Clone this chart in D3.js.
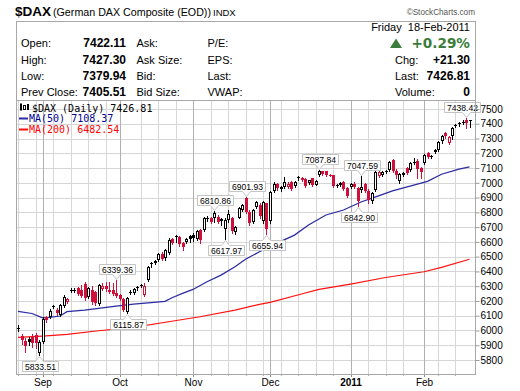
<!DOCTYPE html>
<html><head><meta charset="utf-8">
<script src="https://cdn.jsdelivr.net/npm/d3@7"></script>
<style>
html,body{margin:0;padding:0;background:#fff;}
svg{display:block;}
text{white-space:pre;}
</style></head><body>
<svg id="c" width="520" height="391"></svg>
<script>
// ---------- DATA ----------
const startDate = "2010-08-23", endDate = "2011-02-18";
const open = [6010,5965,5930,5945,5955,5972,5850,5925,6090,6090,6160,6140,6105,6165,6192,6268,6270,6285,6275,6318,
6228,6275,6262,6180,6282,6300,6262,6272,6255,6240,6212,6128,6258,6255,6290,6305,6240,6340,6450,6460,
6478,6520,6492,6525,6618,6635,6630,6590,6600,6640,6645,6620,6680,6680,6755,6762,6762,6770,6755,6690,
6745,6765,6665,6765,6818,6895,6800,6738,6838,6852,6740,6860,6740,6942,6990,6960,6975,6975,7005,6980,
7035,7032,7025,6998,7030,6988,7052,7080,7078,7055,7052,6980,6988,7005,6965,6975,6995,6962,6950,6995,
6945,6880,6950,7045,7055,7072,7088,7152,7080,7010,7055,7098,7088,7138,7150,7098,7135,7205,7176,7212,
7222,7280,7335,7270,7315,7385,7398,7404,7425,7422.11];
const high = [6040,5975,5950,5955,5975,5985,5935,6090,6100,6145,6175,6150,6180,6238,6222,6285,6285,6292,6305,6325,
6292,6300,6270,6312,6322,6330,6330,6320,6339.36,6250,6220,6228,6275,6290,6302,6318,6320,6440,6465,6480,
6522,6530,6550,6625,6625,6650,6640,6600,6625,6645,6660,6682,6690,6770,6775,6770,6810.86,6780,6760,6760,
6815,6770,6710,6835,6855,6901.93,6815,6820,6878,6860,6878,6865,6945,7005,7000,6978,7040,7005,7012,7010,
7045,7040,7030,7022,7035,7020,7087.84,7082,7082,7058,7055,6995,7005,7010,6975,7000,7005,6970,7047.59,7000,
6955,6935,7080,7080,7082,7085,7150,7160,7095,7068,7075,7105,7140,7170,7160,7105,7192,7212,7190,7230,
7285,7325,7345,7320,7375,7400,7412,7425,7438.42,7427.30];
const low = [5995,5905,5855,5900,5885,5880,5833.51,5915,6060,6085,6150,6105,6100,6160,6185,6262,6262,6240,6225,6205,
6222,6180,6175,6170,6275,6270,6255,6240,6225,6205,6135,6115.87,6250,6245,6275,6295,6235,6335,6430,6450,
6470,6475,6480,6520,6585,6600,6575,6545,6590,6600,6605,6610,6590,6675,6740,6728,6738,6725,6715,6617.97,
6735,6660,6655,6760,6810,6798,6715,6730,6830,6760,6730,6655.94,6730,6935,6950,6945,6968,6965,6950,6975,
7020,7015,6970,6990,6978,6982,7045,7050,7048,7048,6970,6970,6980,6950,6905,6965,6965,6842.90,6940,6935,
6860,6862,6945,7040,7048,7065,7080,7070,7030,7000,7045,7060,7080,7125,7035,7030,7128,7170,7165,7200,
7215,7270,7305,7262,7300,7375,7385,7398,7370,7379.94];
const close = [6018,5935,5898,5925,5918,5912,5925,6080,6072,6135,6166,6118,6170,6225,6215,6275,6276,6250,6235,6222,
6287,6190,6188,6305,6298,6280,6275,6248,6232,6215,6142,6218,6262,6278,6294,6310,6300,6430,6455,6468,
6515,6486,6542,6615,6594,6640,6588,6565,6618,6620,6625,6675,6610,6760,6765,6738,6793,6738,6742,6750,
6790,6675,6700,6828,6848,6805,6728,6815,6870,6772,6868,6688,6938,6995,6965,6970,7008,6995,6960,7005,
7040,7022,6978,7018,6985,7015,7080,7058,7054,7052,6976,6988,7000,6960,6914,6990,6975,6880,6975,6945,
6885,6930,7072,7070,7075,7078,7140,7078,7055,7060,7068,7066,7135,7142,7095,7070,7186,7178,7182,7220,
7278,7318,7315,7312,7370,7395,7405,7414,7405.51,7426.81];

const ma50Idx = [0,4,7,9,12,14,19,23,28,33,38,42,44,47,50,54,58,62,65,69,74,79,83,88,93,98,103,107,112,117,121,126,129];
const ma50Val = [6130,6115,6086,6089,6098,6127,6138,6150,6165,6179,6188,6197,6222,6251,6278,6330,6375,6432,6482,6533,6592,6646,6714,6782,6816,6870,6912,6945,6978,7010,7058,7093,7108.37];
const ma200Idx = [0,7,14,23,33,43,52,62,69,72,81,86,95,105,116,121,129];
const ma200Val = [5953,5962,5974,5998,6021,6059,6093,6138,6177,6190,6247,6278,6314,6359,6398,6427,6482.54];

const yTickValues = [5800,5900,6000,6100,6200,6300,6400,6500,6600,6700,6800,6900,7000,7100,7200,7300,7400,7500];
const monthLabels = ["Sep","Oct","Nov","Dec","2011","Feb"];

// swing-point annotations: bar index + which extreme
const annIdx  = [6, 28, 31, 56, 59, 65, 71, 86, 97, 98, 128];
const annType = ["low","high","low","high","low","high","low","high","low","high","high"];

const infoLabels = ["Open:","High:","Low:","Prev Close:"];
const infoValues = ["7422.11","7427.30","7379.94","7405.51"];
const infoCol2 = ["Ask:","Ask Size:","Bid:","Bid Size:"];
const infoCol3 = ["P/E:","EPS:","Last:","VWAP:"];
const rightLabels = ["Chg:","Last:","Volume:"];
const rightValues = ["+21.30","7426.81","0"];

// ---------- SETUP ----------
const svg = d3.select("#c");
const RED = "#d0103a", BLACK = "#000", NAVY = "#2a2aa2", MARED = "#ff1010";
const SANS = "'Liberation Sans', Arial, sans-serif";
const MONO = "'DejaVu Sans Mono', monospace";

const parse = d3.utcParse("%Y-%m-%d");
const dates = d3.utcDay.range(parse(startDate), d3.utcDay.offset(parse(endDate), 1))
  .filter(d => d.getUTCDay() !== 0 && d.getUTCDay() !== 6);
const n = dates.length;

const PL = 16, PR = 476, PT = 100, PB = 374;
const x = d3.scaleLinear().domain([0, n - 1]).range([18, 469.5]);
const y = d3.scaleLinear().domain([5800, 7500]).range([360, 109]);

svg.append("rect").attr("width",520).attr("height",391).attr("fill","#fff");

// ---------- HEADER ----------
svg.append("text").attr("x",15).attr("y",16).attr("font-family",SANS).attr("font-weight","bold")
  .attr("font-size",13.5).text("$DAX");
svg.append("text").attr("x",53).attr("y",16).attr("font-family",SANS).attr("font-size",10.7)
  .text("(German DAX Composite (EOD))");
svg.append("text").attr("x",213).attr("y",16).attr("font-family",SANS).attr("font-size",9.5)
  .text("INDX");
svg.append("text").attr("x",475).attr("y",15).attr("text-anchor","end").attr("font-family",SANS)
  .attr("font-size",8.2).attr("fill","#555").text("\u00A9StockCharts.com");

const rowY = [47, 63.5, 80, 96];
infoLabels.forEach((t,k)=>{
  svg.append("text").attr("x",21).attr("y",rowY[k]).attr("font-family",SANS).attr("font-size",11).text(t);
  svg.append("text").attr("x",126).attr("y",rowY[k]).attr("text-anchor","end").attr("font-family",SANS)
    .attr("font-weight","bold").attr("font-size",12).text(infoValues[k]);
  svg.append("text").attr("x",136.5).attr("y",rowY[k]).attr("font-family",SANS).attr("font-size",11).text(infoCol2[k]);
  svg.append("text").attr("x",207.5).attr("y",rowY[k]).attr("font-family",SANS).attr("font-size",11).text(infoCol3[k]);
});
svg.append("text").attr("x",470).attr("y",31).attr("text-anchor","end").attr("font-family",SANS)
  .attr("font-size",11).text("Friday  18-Feb-2011");
svg.append("path").attr("d","M390,48L396,38.5L402,48Z").attr("fill","#3b7d3b");
svg.append("text").attr("x",470).attr("y",48).attr("text-anchor","end").attr("font-family","'DejaVu Sans', sans-serif")
  .attr("font-weight","bold").attr("font-size",13.6).attr("fill","#3b7d3b").text("+0.29%");
rightLabels.forEach((t,k)=>{
  svg.append("text").attr("x",395).attr("y",rowY[k+1]).attr("font-family",SANS).attr("font-size",11).text(t);
  svg.append("text").attr("x",470).attr("y",rowY[k+1]).attr("text-anchor","end").attr("font-family",SANS)
    .attr("font-weight","bold").attr("font-size",12).text(rightValues[k]);
});

// ---------- GRID ----------
const monthIdx = [];
dates.forEach((d,i)=>{ if(i>0 && d.getUTCMonth() !== dates[i-1].getUTCMonth()) monthIdx.push(i); });
const weekIdx = [];
dates.forEach((d,i)=>{
  if(d.getUTCDay() === 1 && !monthIdx.some(m => Math.abs(m - i) <= 1)) weekIdx.push(i);
});
const grid = svg.append("g").attr("shape-rendering","crispEdges");
yTickValues.forEach(v=>{
  grid.append("line").attr("x1",PL).attr("x2",PR).attr("y1",Math.round(y(v))+0.5).attr("y2",Math.round(y(v))+0.5)
    .attr("stroke","#d6d6d6");
});
weekIdx.forEach(i=>{
  const xx = Math.round(x(i))+0.5;
  grid.append("line").attr("x1",xx).attr("x2",xx).attr("y1",PT).attr("y2",PB).attr("stroke","#d6d6d6");
  grid.append("line").attr("x1",xx).attr("x2",xx).attr("y1",PB).attr("y2",PB+2).attr("stroke","#aaa");
});
monthIdx.forEach(i=>{
  const xx = Math.round(x(i))+0.5;
  grid.append("line").attr("x1",xx).attr("x2",xx).attr("y1",PT).attr("y2",PB).attr("stroke","#b0b0b0");
  grid.append("line").attr("x1",xx).attr("x2",xx).attr("y1",PB).attr("y2",PB+3).attr("stroke","#888");
});

// clip
svg.append("clipPath").attr("id","clip").append("rect").attr("x",PL).attr("y",PT).attr("width",PR-PL).attr("height",PB-PT);
const plot = svg.append("g").attr("clip-path","url(#clip)");

// ---------- MOVING AVERAGES ----------
const line = d3.line().x(d=>x(d[0])).y(d=>y(d[1]));
plot.append("path").attr("d", line(ma200Idx.map((i,k)=>[i, ma200Val[k]])))
  .attr("fill","none").attr("stroke",MARED).attr("stroke-width",1.15);
plot.append("path").attr("d", line(ma50Idx.map((i,k)=>[i, ma50Val[k]])))
  .attr("fill","none").attr("stroke",NAVY).attr("stroke-width",1.25);

// ---------- CANDLES ----------
const cg = plot.append("g").attr("shape-rendering","crispEdges");
for(let i=0;i<n;i++){
  const o=open[i], h=high[i], l=low[i], c=close[i];
  const col = (i>0 && c < close[i-1]) ? RED : BLACK;
  const xc = Math.round(x(i));
  cg.append("line").attr("x1",xc+0.5).attr("x2",xc+0.5).attr("y1",Math.round(y(h))).attr("y2",Math.round(y(l))+1)
    .attr("stroke",col);
  const top = Math.round(y(Math.max(o,c))), bot = Math.round(y(Math.min(o,c)));
  const hgt = bot - top;
  if (c < o) {
    cg.append("rect").attr("x",xc-1).attr("y",top).attr("width",3).attr("height",Math.max(1,hgt)).attr("fill",col);
  } else if (hgt < 2) {
    cg.append("rect").attr("x",xc-1).attr("y",top).attr("width",3).attr("height",1).attr("fill",col);
  } else {
    cg.append("rect").attr("x",xc-0.5).attr("y",top+0.5).attr("width",2).attr("height",hgt-1)
      .attr("fill","#fff").attr("stroke",col);
  }
}

// ---------- ANNOTATIONS ----------
const fmt = d3.format(".2f");
const ag = svg.append("g");
annIdx.forEach((i,k)=>{
  const isHigh = annType[k] === "high";
  const v = isHigh ? high[i] : low[i];
  const cx = Math.round(x(i)) + 0.5;
  const vy = y(v);
  const w = 36, hh = 10;
  let bx = Math.round(cx - w/2) + 0.5;
  if (bx + w > 480.5) bx = 480.5 - w;
  let p;
  if (isHigh) {
    const bb = Math.round(vy - 6) + 0.5, bt = bb - hh;
    p = `M${bx},${bt}H${bx+w}V${bb}H${cx+4}L${cx},${bb+5}L${cx-4},${bb}H${bx}Z`;
    ag.append("path").attr("d",p).attr("fill","#fff").attr("stroke","#c4c4c4");
    ag.append("text").attr("x",bx+w/2).attr("y",bt+8.5).attr("text-anchor","middle").attr("font-family",SANS)
      .attr("font-size",8.6).text(fmt(v));
  } else {
    const bt = Math.round(vy + 6) + 0.5, bb = bt + hh;
    p = `M${bx},${bt}H${cx-4}L${cx},${bt-5}L${cx+4},${bt}H${bx+w}V${bb}H${bx}Z`;
    ag.append("path").attr("d",p).attr("fill","#fff").attr("stroke","#c4c4c4");
    ag.append("text").attr("x",bx+w/2).attr("y",bt+8.5).attr("text-anchor","middle").attr("font-family",SANS)
      .attr("font-size",8.6).text(fmt(v));
  }
});

// ---------- LEGEND ----------
const lg = svg.append("g");
lg.append("rect").attr("x",20).attr("y",104).attr("width",2).attr("height",6).attr("fill","#000");
lg.append("line").attr("x1",21).attr("x2",21).attr("y1",103).attr("y2",111).attr("stroke","#000");
lg.append("rect").attr("x",23.5).attr("y",105.5).attr("width",2).attr("height",4).attr("fill","#fff").attr("stroke","#000");
lg.append("rect").attr("x",27).attr("y",104).attr("width",2).attr("height",6).attr("fill","#000");
lg.append("text").attr("x",32).attr("y",111.5).attr("font-family",MONO).attr("font-size",10).text("$DAX (Daily) 7426.81");
lg.append("line").attr("x1",19).attr("x2",28).attr("y1",118.5).attr("y2",118.5).attr("stroke",NAVY).attr("stroke-width",2);
lg.append("text").attr("x",29).attr("y",122).attr("font-family",MONO).attr("font-size",10).attr("fill","#000090").text("MA(50) 7108.37");
lg.append("line").attr("x1",19).attr("x2",28).attr("y1",129.5).attr("y2",129.5).attr("stroke",MARED).attr("stroke-width",2);
lg.append("text").attr("x",29).attr("y",133).attr("font-family",MONO).attr("font-size",10).attr("fill","#ff0000").text("MA(200) 6482.54");

// ---------- FRAME ----------
svg.append("rect").attr("x",PL+0.5).attr("y",21.5).attr("width",PR-PL-1).attr("height",PB-21.5)
  .attr("fill","none").attr("stroke","#a8a8a8").attr("shape-rendering","crispEdges");
svg.append("line").attr("x1",PL).attr("x2",PR).attr("y1",PT+0.5).attr("y2",PT+0.5).attr("stroke","#a8a8a8")
  .attr("shape-rendering","crispEdges");

// ---------- AXES ----------
const yAxis = d3.axisRight(y).tickValues(yTickValues).tickSize(4).tickPadding(1).tickFormat(d3.format("d"));
const ya = svg.append("g").attr("transform",`translate(${PR-0.5},0)`).call(yAxis);
ya.select(".domain").remove();
ya.selectAll("line").attr("stroke","#999");
ya.selectAll("text").attr("font-family",SANS).attr("font-size",10).attr("fill","#000");

const xAxis = d3.axisBottom(x).tickValues(monthIdx).tickSize(0).tickPadding(5)
  .tickFormat((d,k)=>monthLabels[k]);
const xa = svg.append("g").attr("transform",`translate(0,${PB})`).call(xAxis);
xa.select(".domain").remove();
xa.selectAll("text").attr("font-family",SANS).attr("font-size",10).attr("fill","#000")
  .attr("font-weight",(d,k)=>monthLabels[k]==="2011"?"bold":"normal");
</script></body></html>
